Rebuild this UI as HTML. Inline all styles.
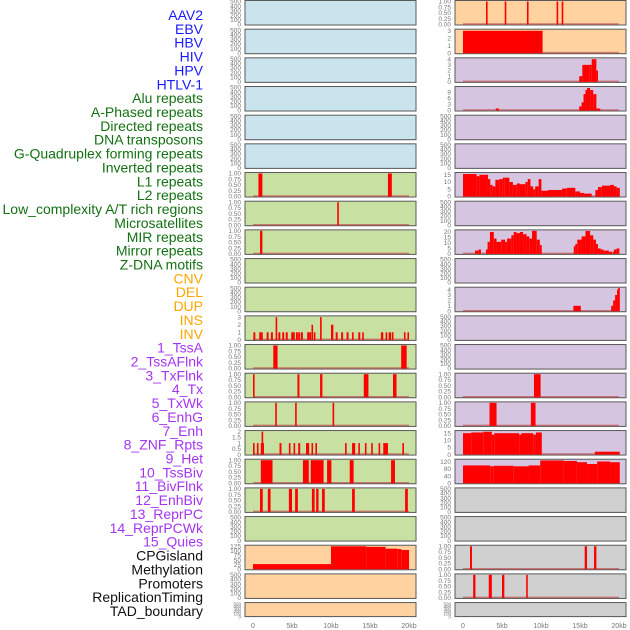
<!DOCTYPE html>
<html><head><meta charset="utf-8">
<style>
html,body{margin:0;padding:0;background:#fff;}
svg{display:block;font-family:"Liberation Sans",sans-serif;}
</style></head>
<body>
<svg id="chart" width="630" height="630" viewBox="0 0 630 630" xmlns="http://www.w3.org/2000/svg"></svg>
<script>
// ---- data ----
const trackLabels = ["AAV2","EBV","HBV","HIV","HPV","HTLV-1","Alu repeats","A-Phased repeats","Directed repeats","DNA transposons","G-Quadruplex forming repeats","Inverted repeats","L1 repeats","L2 repeats","Low_complexity A/T rich regions","Microsatellites","MIR repeats","Mirror repeats","Z-DNA motifs","CNV","DEL","DUP","INS","INV","1_TssA","2_TssAFlnk","3_TxFlnk","4_Tx","5_TxWk","6_EnhG","7_Enh","8_ZNF_Rpts","9_Het","10_TssBiv","11_BivFlnk","12_EnhBiv","13_ReprPC","14_ReprPCWk","15_Quies","CPGisland","Methylation","Promoters","ReplicationTiming","TAD_boundary"];
const labelGroups = [6,13,5,15,5];
const groupColors = ["#1a1aff","#137013","#ffa500","#a535f0","#111111"];
const xTickLabels = ["0","5kb","10kb","15kb","20kb"];
const xTickValues = [0,5,10,15,20];
const leftBg = ["b","b","b","b","b","b","g","g","g","g","g","g","g","g","g","g","g","g","g","o","o","o"];
const rightBg = ["o","o","p","p","p","p","p","p","p","p","p","p","p","p","p","p","p","y","y","y","y","y"];
const zTicks = [0,100,200,300,400,500];
const pTicks = [0,0.25,0.5,0.75,1];
// segments: [startKb, endKb, value]
const L6 = [[0.7,1.2,1],[17.3,17.8,1]];
const L7 = [[10.8,11.0,1]];
const L8 = [[0.9,1.2,1]];
const L11 = [[0.05,0.3,1],[0.8,1.05,1],[1.0,1.25,1],[1.75,2.0,1],[2.3,2.55,1],[2.9,3.1,3],[3.25,3.5,1],[3.75,4.0,1],[4.2,4.45,1],[4.9,5.15,1],[5.1,5.35,1],[5.5,5.75,1],[5.8,6.05,1],[6.15,6.4,1],[6.95,7.2,1],[7.2,7.45,1],[7.5,7.7,2],[7.8,8.0,1],[8.6,8.8,3],[10.0,10.3,2],[10.6,10.85,1],[11.3,11.55,1],[12.0,12.25,1],[12.7,12.9,1],[13.5,13.75,1],[14.0,14.2,1],[16.4,16.7,1],[17.0,17.2,1],[17.4,17.7,1],[17.8,18.0,1],[19.35,19.55,1],[19.8,20.0,1]];
const L12 = [[2.6,3.15,1],[19.0,19.7,1]];
const L13 = [[0.0,0.15,1],[5.7,5.95,1],[8.6,8.9,1],[14.2,14.8,1],[17.95,18.4,1]];
const L14 = [[2.85,3.0,1],[5.4,5.6,1],[10.2,10.4,1]];
const L15 = [[0,0.2,1],[0.5,0.7,1],[1.0,1.1,1],[1.1,1.2,2],[1.2,1.3,1],[3.4,3.65,1],[4.6,4.8,1],[5.2,5.35,1],[5.8,6.05,1],[6.8,7.2,1],[7.5,7.65,1],[8.0,8.15,1],[11.8,11.95,1],[12.7,13.1,1],[13.5,13.65,1],[14.35,14.5,1],[15.15,15.3,1],[16.1,16.3,1],[16.7,17.3,1],[19.15,19.3,1]];
const L16 = [[1.0,2.5,1],[6.4,7.15,1],[7.4,9.05,1],[9.5,10.05,1],[12.4,12.9,1],[17.7,18.2,1]];
const L17 = [[0.9,1.25,1],[1.9,2.25,1],[4.6,5.0,1],[5.4,5.75,1],[7.55,7.9,1],[8.1,8.4,1],[8.85,9.2,1],[12.7,13.05,1],[19.5,19.85,1]];
const L19 = [[0,10,28],[10,14.5,125],[14.5,17,122],[17,18.5,112],[18.5,19,110],[19,20,105]];
const R0 = [[2.95,3.1,1],[5.35,5.5,1],[8.2,8.35,1],[12.0,12.2,1],[12.65,12.8,1]];
const R1 = [[0,10.2,3]];
const R2 = [[14.9,15.3,1],[15.3,16.2,3],[16.2,16.5,3],[16.5,17.1,4],[17.1,17.25,2]];
const R3 = [[4.2,4.6,1],[14.9,15.2,2],[15.2,15.45,4],[15.45,15.7,8],[15.7,15.9,10],[15.9,16.3,11],[16.3,16.7,10],[16.7,17.1,8],[17.1,17.6,1]];
const R6 = [[0,1.75,15.5],[1.75,2.1,14],[2.1,3.2,15],[3.2,3.5,12],[3.5,3.8,8],[3.8,4.15,7],[4.15,4.65,11.5],[4.65,5.1,12],[5.1,5.35,13],[5.35,5.95,13],[5.95,6.4,10],[6.4,6.9,8],[6.9,7.3,9],[7.3,8.0,8.5],[8.0,8.3,10],[8.3,8.65,12],[8.65,9.0,7],[9.0,9.25,5],[9.25,9.7,7],[9.7,10.05,12],[10.05,10.9,4],[10.9,12.7,4.5],[12.7,13.3,5.5],[13.3,14.4,6],[14.4,15.0,3.5],[15.0,15.5,2.5],[15.5,16.5,2],[16.97,17.3,4.5],[17.3,17.8,6.5],[17.8,18.85,7.5],[18.85,19.35,8],[19.35,19.7,7],[19.7,20.1,6]];
const R8 = [[1.55,2.0,3],[2.0,2.3,4],[2.95,3.15,4],[3.15,3.45,11],[3.45,3.95,20],[3.95,4.3,14],[4.3,4.9,11],[4.9,5.4,13],[5.4,5.65,11],[5.65,6.2,14],[6.2,6.5,17],[6.5,6.85,20],[6.85,7.3,19],[7.3,7.7,20],[7.7,8.15,18],[8.15,8.5,16],[8.5,8.85,14],[8.85,9.45,21],[9.45,9.85,13],[9.85,10.1,8],[14.2,14.4,7],[14.4,14.65,9],[14.65,15.2,13],[15.2,15.7,16],[15.7,16.3,21],[16.3,16.7,17],[16.7,17.05,13],[17.05,17.3,9],[17.3,17.65,5],[17.65,18.0,4],[18.0,18.7,3],[18.7,19.1,2],[19.2,19.35,2],[19.35,19.7,4],[19.7,20.05,5]];
const R10 = [[14.15,15.1,1],[19.0,19.25,1],[19.25,19.5,2],[19.5,19.75,3],[19.75,19.9,4],[19.9,20.05,4.3]];
const R13 = [[9.1,9.95,1]];
const R14 = [[3.4,4.3,1],[8.7,9.3,1]];
const R15 = [[0,1.05,15],[1.05,2.6,15.5],[2.6,3.7,16],[3.7,4.0,14],[4.0,7.2,15],[7.2,7.5,14],[7.5,9.0,15],[9.0,9.35,14],[9.35,10.1,15.5],[16.9,20.1,2]];
const R16 = [[0,3.5,100],[3.5,3.95,95],[3.95,6.5,98],[6.5,8.4,95],[8.4,9.9,100],[9.9,12.9,128],[12.9,14.6,125],[14.6,15.9,118],[15.9,17.2,108],[17.2,18.85,122],[18.85,20.1,118]];
const R19 = [[0.9,1.15,1],[15.6,15.9,1],[16.8,17.1,1]];
const R20 = [[1.3,1.6,1],[3.3,3.7,1],[5.0,5.3,1],[8.1,8.3,1]];
// per-row: [segments, ticks, yMax]
const leftSeries = [null,null,null,null,null,null,L6,L7,L8,null,null,L11,L12,L13,L14,L15,L16,L17,null,L19,null,null];
const rightSeries = [R0,R1,R2,R3,null,null,R6,null,R8,null,R10,null,null,R13,R14,R15,R16,null,null,R19,R20,null];
const leftTicks = [0,0,0,0,0,0,"p","p","p",0,0,[0,1,2,3],"p","p","p",[0,0.5,1,1.5,2],"p","p",0,[0,25,50,75,100,125],0,0];
const rightTicks = ["p",[0,1,2,3],[0,1,2,3,4],[0,3,6,9],0,0,[0,5,10,15],0,[0,5,10,15,20],0,[0,1,2,3,4],0,0,"p","p",[0,5,10,15],[0,40,80,120],0,0,"p","p",0];
const leftMax = [510,510,510,510,510,510,1.02,1.02,1.02,510,510,3.1,1.02,1.02,1.02,2.05,1.02,1.02,510,128,510,510];
const rightMax = [1.02,3.15,4.15,11.5,510,510,16.2,510,21.5,510,4.35,510,510,1.02,1.02,16.5,132,510,510,1.02,1.02,510];

// ---- drawing ----
const NS = "http://www.w3.org/2000/svg";
const svg = document.getElementById("chart");
const bgColors = {b:"#c9e4ec",g:"#c8e1a3",o:"#ffd29f",p:"#d6c5e1",y:"#d0d0d0"};
function mk(tag, attrs, parent){const e=document.createElementNS(NS,tag);for(const k in attrs)e.setAttribute(k,attrs[k]);(parent||svg).appendChild(e);return e;}
function rowTop(i){return 0.5+28.67*i;}
function rowH(i){return i===21?14:24.5;}
function xScale(panelX){return kb=>panelX+8+kb*7.8;}

// labels
let li=0;
labelGroups.forEach((n,g)=>{
  for(let k=0;k<n;k++){
    const t=mk("text",{x:203,y:15+li*13.86+5,"text-anchor":"end","font-size":"14",fill:groupColors[g]});
    
    
    t.textContent=trackLabels[li];li++;
  }
});

function drawPanel(i, side){
  const px = side==="L"?245:455;
  const pw = 171;
  const top=rowTop(i), h=rowH(i), bottom=top+h;
  const bg = side==="L"?leftBg[i]:rightBg[i];
  const series = side==="L"?leftSeries[i]:rightSeries[i];
  const tk = side==="L"?leftTicks[i]:rightTicks[i];
  const ymax = side==="L"?leftMax[i]:rightMax[i];
  const g=mk("g",{});
  
  
  mk("rect",{x:px+0.5,y:top+0.5,width:pw,height:h,fill:"#aaa"},g);
  mk("rect",{x:px,y:top,width:pw,height:h,fill:bgColors[bg],stroke:"#5a5a5a","stroke-width":1},g);
  const ys = v=>bottom-0.5-(v/ymax)*(h-1);
  const xs = xScale(px);
  // ticks
  let ticks, fmt;
  if(tk==="p"){ticks=pTicks;fmt=v=>v.toFixed(2);}
  else if(tk===0){ticks=zTicks;fmt=v=>String(v);}
  else {ticks=tk;fmt=v=>String(v);}
  const fs = i===21?4.5:6.5;
  ticks.forEach(v=>{
    const t=mk("text",{x:px-4,y:ys(v)+2.2,"text-anchor":"end","font-size":fs,fill:"#777"},g);
    
    
    t.textContent=fmt(v);
  });
  if(series){
    mk("line",{x1:xs(0),x2:xs(20),y1:bottom-1,y2:bottom-1,stroke:"#c05050","stroke-width":1.5,opacity:0.7},g);
    series.forEach(s=>{
      const x0=xs(s[0]), x1=xs(s[1]);
      const r=mk("rect",{x:x0,y:ys(s[2]),width:Math.max(1.6,x1-x0),height:bottom-0.5-ys(s[2]),fill:"#ff0000"},g);
      
      
    });
  }
}
for(let i=0;i<22;i++){drawPanel(i,"L");drawPanel(i,"R");}

// x axes
[245,455].forEach(px=>{
  const xs=xScale(px);
  xTickValues.forEach((v,k)=>{
    const t=mk("text",{x:xs(v),y:628,"text-anchor":"middle","font-size":"7",fill:"#777"});
    
    
    t.textContent=xTickLabels[k];
  });
});
</script>
</body></html>
